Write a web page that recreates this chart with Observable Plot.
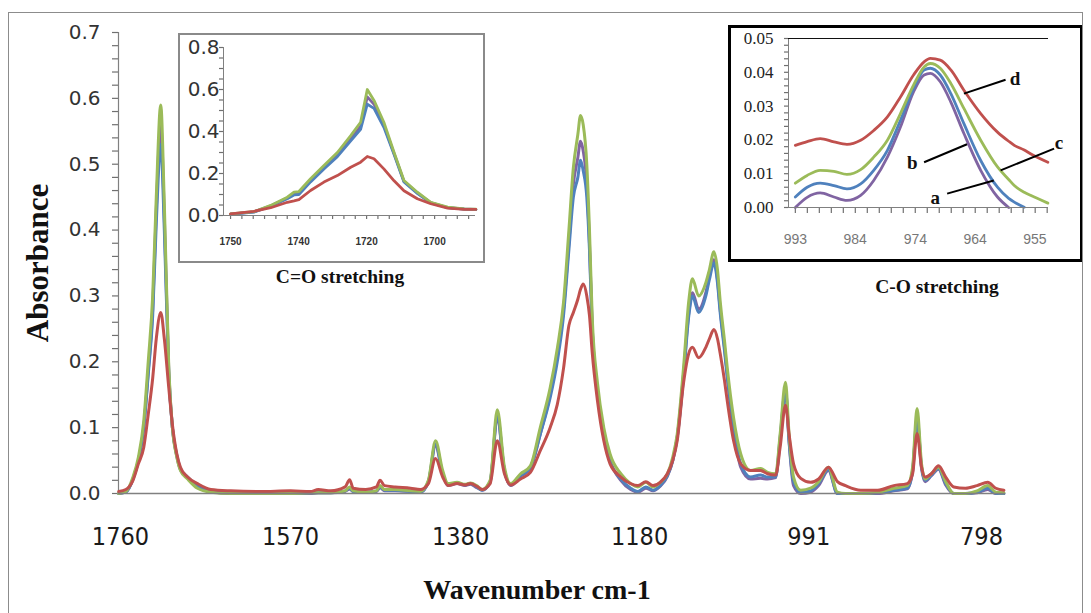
<!DOCTYPE html>
<html><head><meta charset="utf-8">
<script src="https://cdn.jsdelivr.net/npm/d3@7"></script>
<script src="https://cdn.jsdelivr.net/npm/@observablehq/plot@0.6"></script>
<style>
body{margin:0;background:#fff;}
#fig{position:relative;width:1091px;height:613px;overflow:hidden;background:#fff;}
#fig > svg{position:absolute;left:0;top:0;}
#border{position:absolute;left:8px;top:12px;width:1075px;height:640px;border:1px solid #8c8c8c;box-sizing:border-box;pointer-events:none;}
.inset{position:absolute;background:#fff;}
.inset svg{position:absolute;left:0;top:0;}
.frame{position:absolute;left:0;top:0;right:0;bottom:0;box-sizing:border-box;pointer-events:none;}
.cap{position:absolute;font-family:"Liberation Serif","Times New Roman",serif;font-weight:bold;font-size:19.5px;color:#111;white-space:nowrap;transform:translate(-50%,-50%);}
</style></head>
<body><div id="fig"></div>
<script>
// ---------- main spectrum data (wavenumber cm-1) ----------
const wavenumber = [1762,1754,1746,1740,1734,1729,1724,1720,1715,1711,1706,1702,1697,1693,1685,1674,1659,1637,1604,1570,
1548,1539,1525,1509,1504,1500,1486,1474,1470,1465,1453,1436,1425,1416,1408,1400,1394,1384,1375,1369,
1362,1356,1347,1339,1331,1324,1313,1302,1291,1280,1272,1265,1259,1254,1249,1246,1243,1239,1236,1233,
1227,1220,1213,1201,1190,1182,1173,1165,1157,1149,1143,1138,1131,1125,1121,1114,1106,1102,1097,1093,
1090,1085,1082,1075,1067,1056,1045,1037,1028,1023,1017,1013,1008,1000,989,980,969,959,950,933,
914,896,881,875,870,865,861,854,846,838,829,816,803,791,782,773];
// d (red)
const absD = [.003,.006,.020,.045,.070,.120,.175,.235,.275,.235,.160,.105,.060,.040,.025,.015,.006,.004,.003,.004,
.003,.006,.004,.010,.021,.008,.006,.010,.020,.012,.010,.008,.006,.015,.053,.025,.012,.015,.013,.015,
.011,.006,.015,.080,.030,.013,.022,.032,.065,.100,.135,.190,.255,.275,.295,.310,.318,.300,.270,.215,
.140,.080,.045,.025,.015,.012,.018,.012,.017,.030,.050,.080,.167,.213,.222,.206,.222,.235,.249,.235,
.213,.170,.140,.080,.045,.035,.035,.030,.028,.070,.134,.090,.045,.023,.017,.022,.040,.018,.012,.005,
.005,.012,.015,.030,.091,.040,.025,.030,.042,.025,.010,.008,.012,.017,.008,.005];
// c (green)
const absC = [.000,.003,.025,.055,.110,.200,.300,.450,.590,.440,.190,.100,.055,.035,.022,.008,.002,.000,.000,.000,
.001,.001,.001,.004,.010,.004,.002,.004,.012,.006,.006,.004,.003,.020,.080,.035,.015,.017,.014,.016,
.012,.006,.020,.127,.040,.015,.030,.042,.100,.160,.220,.290,.400,.495,.545,.574,.560,.500,.400,.270,
.167,.100,.060,.030,.015,.010,.017,.010,.017,.030,.055,.090,.190,.293,.326,.300,.320,.340,.367,.340,
.293,.230,.190,.115,.060,.035,.038,.032,.030,.090,.169,.090,.025,.005,.008,.018,.040,.002,.000,.000,
.002,.008,.012,.040,.129,.045,.022,.030,.040,.018,.000,.000,.004,.012,.002,.001];
// b (blue)
const absB = [.000,.002,.022,.050,.100,.180,.270,.410,.530,.400,.180,.100,.058,.038,.025,.012,.004,.001,.000,.000,
.001,.001,.001,.004,.008,.003,.002,.004,.010,.005,.005,.003,.002,.018,.075,.030,.013,.016,.013,.015,
.010,.005,.018,.118,.035,.013,.027,.040,.090,.145,.200,.270,.370,.450,.480,.506,.490,.450,.370,.250,
.155,.090,.050,.022,.008,.003,.010,.005,.012,.027,.050,.085,.175,.270,.300,.275,.300,.325,.350,.320,
.275,.215,.175,.100,.045,.025,.028,.025,.025,.085,.158,.080,.018,.002,.004,.015,.037,.000,.000,.000,
.001,.005,.008,.035,.115,.040,.020,.028,.038,.015,.000,.000,.002,.008,.000,.000];
// a (purple)
const absA = [.000,.002,.022,.050,.100,.185,.280,.430,.560,.420,.185,.100,.056,.036,.024,.010,.003,.000,.000,.000,
.000,.001,.001,.003,.007,.003,.002,.003,.009,.004,.004,.003,.002,.017,.072,.030,.012,.015,.012,.014,
.009,.005,.017,.115,.035,.012,.026,.038,.090,.150,.210,.280,.380,.470,.510,.535,.520,.470,.380,.255,
.155,.090,.050,.020,.006,.002,.008,.004,.011,.026,.050,.085,.180,.275,.305,.280,.305,.330,.355,.325,
.280,.220,.180,.100,.040,.022,.023,.022,.024,.080,.155,.078,.012,.000,.002,.012,.035,.000,.000,.000,
.000,.004,.007,.033,.110,.038,.018,.027,.037,.013,.000,.000,.001,.006,.000,.000];
const mainXTicks = [1760,1570,1380,1180,991,798];
const mainYTicks = [0,0.1,0.2,0.3,0.4,0.5,0.6,0.7];

// ---------- inset 1: C=O stretching ----------
const wnCO = [1759.5,1752.9,1748.1,1743.4,1741.5,1740.1,1736.8,1733.0,1729.2,1725.4,1722.6,1720.7,1718.8,1716.0,1713.1,1710.3,1706.5,1702.7,1697.9,1693.2,1689.9];
const coD = [0.008,0.020,0.037,0.063,0.070,0.076,0.119,0.159,0.190,0.230,0.254,0.281,0.270,0.222,0.165,0.118,0.080,0.056,0.035,0.029,0.029];
const coC = [0.008,0.018,0.048,0.087,0.111,0.114,0.175,0.238,0.300,0.380,0.444,0.600,0.548,0.444,0.300,0.167,0.111,0.063,0.040,0.032,0.030];
const coB = [0.006,0.016,0.044,0.080,0.098,0.100,0.160,0.222,0.280,0.355,0.410,0.530,0.510,0.420,0.290,0.160,0.105,0.060,0.037,0.030,0.028];
const coA = [0.007,0.017,0.046,0.083,0.104,0.106,0.166,0.228,0.290,0.365,0.425,0.565,0.530,0.430,0.295,0.163,0.107,0.061,0.038,0.031,0.029];
const coTickPos = [1759.5,1740.2,1720.9,1701.6];
const coTickLabels = ["1750","1740","1720","1700"];
const coYTicks = [0,0.2,0.4,0.6,0.8];

// ---------- inset 2: C-O stretching ----------
const wnCOs = [993.3,991.4,989.3,987.1,985.0,982.8,980.7,978.5,976.4,974.3,972.6,971.6,970.0,968.3,966.2,963.5,960.8,959.0,958.1,956.5,955.5,952.7];
const csD = [0.0184,0.0195,0.0204,0.0194,0.0187,0.0199,0.0228,0.0268,0.0327,0.0392,0.0431,0.0441,0.0436,0.0407,0.0347,0.0278,0.0223,0.0196,0.0184,0.0170,0.0159,0.0134];
const csC = [0.0072,0.0095,0.0110,0.0107,0.0098,0.0112,0.0149,0.0199,0.0278,0.0362,0.0416,0.0426,0.0412,0.0367,0.0293,0.0199,0.0120,0.0083,0.0065,0.0045,0.0036,0.0013];
const csB = [0.0031,0.0060,0.0072,0.0065,0.0055,0.0070,0.0110,0.0169,0.0258,0.0352,0.0407,0.0412,0.0392,0.0337,0.0248,0.0139,0.0060,0.0027,0.0016,0.0001,null,null];
const csA = [0.0000,0.0030,0.0043,0.0031,0.0021,0.0036,0.0080,0.0149,0.0238,0.0342,0.0392,0.0397,0.0372,0.0312,0.0219,0.0110,0.0031,0.0000,null,null,null,null];
const csTickPos = [993.3,983.7,974.0,964.4,954.8];
const csTickLabels = ["993","984","974","964","955"];
const csYTicks = [0,0.01,0.02,0.03,0.04,0.05];
const csLabels = ["a","b","c","d"];
const csLabelW = [970.8,974.5,950.9,958.0];
const csLabelV = [0.0027,0.0131,0.0190,0.0380];
const csLeaderW1 = [968.9,972.6,960.3,966.2];
const csLeaderV1 = [0.0041,0.0134,0.0110,0.0337];
const csLeaderW2 = [961.4,965.7,951.7,959.5];
const csLeaderV2 = [0.0080,0.0187,0.0174,0.0378];

const colors = {a:"#8064A2", b:"#4F81BD", c:"#9BBB59", d:"#C0504D"};
const axisGray = "#808080";
const tickGray = "#707070";
const rows = (wn, vals) => wn.map((w,i)=>({w, v: vals[i]})).filter(d => d.v != null);

// tick-mark helpers: short rules whose length is converted from pixels to data units
function yTickRules(ticks, xEdge, xPerPx, lenPx) {
  return Plot.ruleY(ticks, {y: d => d, x1: () => xEdge, x2: () => xEdge + xPerPx * lenPx, stroke: tickGray, strokeWidth: 1.2});
}
function xTickRules(ticks, yEdge, yPerPx, lenPx) {
  return Plot.ruleX(ticks, {x: d => d, y1: () => yEdge, y2: () => yEdge - yPerPx * lenPx, stroke: tickGray, strokeWidth: 1.2});
}

// ---------- main chart ----------
const mainW = 1091, mainH = 613, mL = 118, mR = 86, mT = 32, mB = 120;
const mainXDomain = [1762.2, 771.2];
const mainXPerPx = (mainXDomain[0] - mainXDomain[1]) / (mainW - mL - mR);
const main = Plot.plot({
  width: mainW, height: mainH,
  marginLeft: mL, marginRight: mR, marginTop: mT, marginBottom: mB,
  style: {background: "transparent", fontFamily: "DejaVu Sans", overflow: "visible"},
  x: {domain: mainXDomain, axis: null},
  y: {domain: [0, 0.7], axis: null},
  marks: [
    yTickRules(d3.range(0, 36).map(i => i * 0.02), mainXDomain[0], mainXPerPx, 6),
    Plot.axisY(mainYTicks, {tickSize: 0, tickPadding: 18, tickFormat: d => d.toFixed(1), fontSize: 20, fontFamily: "DejaVu Sans", fill: "#333", label: null}),
    Plot.axisX(mainXTicks, {tickSize: 0, tickPadding: 34, tickFormat: d => String(d), fontSize: 25, fontFamily: "Liberation Sans Narrow, DejaVu Sans Condensed, sans-serif", fill: "#1a1a1a", label: null}),
    Plot.ruleX([mainXDomain[0]], {stroke: axisGray, strokeWidth: 1.2}),
    Plot.line(rows(wavenumber, absA), {x: "w", y: "v", stroke: colors.a, strokeWidth: 3, curve: "monotone-x"}),
    Plot.line(rows(wavenumber, absB), {x: "w", y: "v", stroke: colors.b, strokeWidth: 3, curve: "monotone-x"}),
    Plot.line(rows(wavenumber, absC), {x: "w", y: "v", stroke: colors.c, strokeWidth: 3, curve: "monotone-x"}),
    Plot.line(rows(wavenumber, absD), {x: "w", y: "v", stroke: colors.d, strokeWidth: 3, curve: "monotone-x"}),
    Plot.ruleY([0], {stroke: axisGray, strokeWidth: 1.5}),
    Plot.text(["Absorbance"], {text: d => d, frameAnchor: "left", textAnchor: "middle", dx: -80, rotate: -90, fontSize: 31, fontWeight: "bold", fontFamily: "Liberation Serif, serif", fill: "#111"}),
    Plot.text(["Wavenumber cm-1"], {text: d => d, frameAnchor: "bottom", textAnchor: "middle", lineAnchor: "middle", dx: -25, dy: 97, fontSize: 28, fontWeight: "bold", fontFamily: "Liberation Serif, serif", fill: "#111"})
  ]
});
const fig = document.getElementById("fig");
fig.appendChild(main);

function addInset(svg, left, top, w, h, border) {
  const div = document.createElement("div");
  div.className = "inset";
  div.style.left = left + "px"; div.style.top = top + "px";
  div.style.width = w + "px"; div.style.height = h + "px";
  div.appendChild(svg);
  const fr = document.createElement("div");
  fr.className = "frame";
  fr.style.border = border;
  div.appendChild(fr);
  fig.appendChild(div);
}
function addCaption(text, cx, cy) {
  const d = document.createElement("div");
  d.className = "cap"; d.textContent = text;
  d.style.left = cx + "px"; d.style.top = cy + "px";
  fig.appendChild(d);
}

// ---------- inset 1 ----------
const i1 = {w: 307, h: 230, l: 45, r: 10, t: 14, b: 48};
const coXDomain = [1761.5, 1690];
const coXPerPx = (coXDomain[0] - coXDomain[1]) / (i1.w - i1.l - i1.r);
const coYPerPx = 0.8 / (i1.h - i1.t - i1.b);
const inset1 = Plot.plot({
  width: i1.w, height: i1.h,
  marginLeft: i1.l, marginRight: i1.r, marginTop: i1.t, marginBottom: i1.b,
  style: {background: "white", fontFamily: "DejaVu Sans", overflow: "visible"},
  x: {domain: coXDomain, axis: null},
  y: {domain: [0, 0.8], axis: null},
  marks: [
    yTickRules(d3.range(0, 17).map(i => i * 0.05), coXDomain[0], coXPerPx, 4),
    xTickRules(d3.range(0, 22).map(i => 1759.5 - i * 19.3 / 6), 0, coYPerPx, 4),
    Plot.axisY(coYTicks, {tickSize: 0, tickPadding: 4, tickFormat: d => d.toFixed(1), fontSize: 20, fontFamily: "DejaVu Sans", fill: "#333", label: null}),
    Plot.axisX(coTickPos, {tickSize: 0, tickPadding: 22, tickFormat: (d, i) => coTickLabels[i], fontSize: 10, fontWeight: "bold", fontFamily: "Liberation Sans, sans-serif", fill: "#333", label: null}),
    Plot.ruleX([coXDomain[0]], {stroke: axisGray}),
    Plot.line(rows(wnCO, coA), {x: "w", y: "v", stroke: colors.a, strokeWidth: 2.8}),
    Plot.line(rows(wnCO, coB), {x: "w", y: "v", stroke: colors.b, strokeWidth: 2.8}),
    Plot.line(rows(wnCO, coC), {x: "w", y: "v", stroke: colors.c, strokeWidth: 2.8}),
    Plot.line(rows(wnCO, coD), {x: "w", y: "v", stroke: colors.d, strokeWidth: 2.8}),
    Plot.ruleY([0], {stroke: axisGray, strokeWidth: 1.2})
  ]
});
addInset(inset1, 178, 33, i1.w, i1.h, "2px solid #8a8a8a");
addCaption("C=O stretching", 340, 277);

// ---------- inset 2 ----------
const i2 = {w: 355, h: 237, l: 60, r: 35, t: 13, b: 55};
const csXDomain = [994.4, 952.6];
const csXPerPx = (csXDomain[0] - csXDomain[1]) / (i2.w - i2.l - i2.r);
const csYPerPx = 0.05 / (i2.h - i2.t - i2.b);
const inset2 = Plot.plot({
  width: i2.w, height: i2.h,
  marginLeft: i2.l, marginRight: i2.r, marginTop: i2.t, marginBottom: i2.b,
  style: {background: "white", fontFamily: "DejaVu Sans", overflow: "visible"},
  x: {domain: csXDomain, axis: null},
  y: {domain: [0, 0.05], axis: null},
  marks: [
    yTickRules(d3.range(0, 26).map(i => i * 0.002), csXDomain[0], csXPerPx, 4),
    xTickRules(d3.range(0, 22).map(i => 993.3 - i * 1.928), 0, csYPerPx, 6),
    Plot.axisY(csYTicks, {tickSize: 0, tickPadding: 15, tickFormat: d => d.toFixed(2), fontSize: 17, fontFamily: "Liberation Serif, serif", fill: "#222", label: null}),
    Plot.axisX(csTickPos, {tickSize: 0, tickPadding: 27, tickFormat: (d, i) => csTickLabels[i], fontSize: 14, fontFamily: "Liberation Sans, sans-serif", fill: "#777", label: null}),
    Plot.ruleX([csXDomain[0]], {stroke: axisGray}),
    Plot.ruleY([0.05], {stroke: "#111", strokeWidth: 1.2}),
    Plot.line(rows(wnCOs, csA), {x: "w", y: "v", stroke: colors.a, strokeWidth: 2.8, curve: "monotone-x"}),
    Plot.line(rows(wnCOs, csB), {x: "w", y: "v", stroke: colors.b, strokeWidth: 2.8, curve: "monotone-x"}),
    Plot.line(rows(wnCOs, csC), {x: "w", y: "v", stroke: colors.c, strokeWidth: 2.8, curve: "monotone-x"}),
    Plot.line(rows(wnCOs, csD), {x: "w", y: "v", stroke: colors.d, strokeWidth: 2.8, curve: "monotone-x"}),
    Plot.ruleY([0], {stroke: axisGray, strokeWidth: 1.2}),
    Plot.link(csLabels.map((k, i) => i), {x1: i => csLeaderW1[i], y1: i => csLeaderV1[i], x2: i => csLeaderW2[i], y2: i => csLeaderV2[i], stroke: "#000", strokeWidth: 2}),
    Plot.text(csLabels, {x: (d, i) => csLabelW[i], y: (d, i) => csLabelV[i], text: d => d, fontSize: 19, fontWeight: "bold", fontFamily: "Liberation Serif, serif", fill: "#111"})
  ]
});
addInset(inset2, 728, 25, i2.w, i2.h, "3px solid #000");
addCaption("C-O stretching", 937, 287);

const b = document.createElement("div"); b.id = "border"; fig.appendChild(b);
</script>
</body></html>
